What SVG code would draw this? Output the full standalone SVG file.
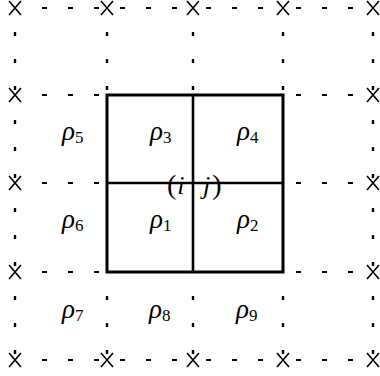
<svg xmlns="http://www.w3.org/2000/svg" width="380" height="376" viewBox="0 0 380 376">
<style>
.h{stroke:#000;stroke-width:2.2;stroke-dasharray:5 21;fill:none}
.v{stroke:#000;stroke-width:2.4;stroke-dasharray:4 23;fill:none}
.x{stroke:#000;stroke-width:1.6;fill:none}
.box{stroke:#000;stroke-width:3;fill:none}
.in{stroke:#000;stroke-width:2.6;fill:none}
text{font-family:"Liberation Serif","DejaVu Serif",serif;fill:#000}
.r{font-style:italic;font-size:27px}
.s{font-size:17px}
.p{font-size:28px}
.pi{font-size:26px;font-style:italic}
</style>
<defs>
<path id="cx" d="M-6,-7 L6,7 M-6,7 L6,-7" class="x"/>
</defs>
<g id="connectors">
<path class="h" d="M42,8 H107 M120,8 H193 M206,8 H283 M296,8 H373"/>
<path class="h" d="M42,95 H107 M296,95 H373"/>
<path class="h" d="M42,183 H107 M296,183 H373"/>
<path class="h" d="M42,272 H107 M296,272 H373"/>
<path class="h" d="M42,360 H107 M120,360 H193 M206,360 H283 M296,360 H373"/>
<path class="v" d="M15,32 V95 M15,120 V183 M15,208 V272 M15,296 V360"/>
<path class="v" d="M107,32 V95 M193,32 V95 M283,32 V95"/>
<path class="v" d="M107,296 V360 M193,296 V360 M283,296 V360"/>
<path class="v" d="M373,32 V95 M373,120 V183 M373,208 V272 M373,296 V360"/>
</g>
<g id="crosses">
<use href="#cx" x="15" y="8"/><use href="#cx" x="107" y="8"/><use href="#cx" x="193" y="8"/><use href="#cx" x="283" y="8"/><use href="#cx" x="373" y="8"/>
<use href="#cx" x="15" y="95"/><use href="#cx" x="373" y="95"/>
<use href="#cx" x="15" y="183"/><use href="#cx" x="373" y="183"/>
<use href="#cx" x="15" y="272"/><use href="#cx" x="373" y="272"/>
<use href="#cx" x="15" y="360"/><use href="#cx" x="107" y="360"/><use href="#cx" x="193" y="360"/><use href="#cx" x="283" y="360"/><use href="#cx" x="373" y="360"/>
</g>
<g id="box">
<rect class="box" x="107" y="95" width="176" height="177"/>
<path class="in" d="M107,183 H283 M193,95 V272"/>
</g>
<g id="labels">
<text x="62" y="140"><tspan class="r">ρ</tspan><tspan class="s" dy="3">5</tspan></text>
<text x="150" y="140"><tspan class="r">ρ</tspan><tspan class="s" dy="3">3</tspan></text>
<text x="237" y="140"><tspan class="r">ρ</tspan><tspan class="s" dy="3">4</tspan></text>
<text x="62" y="228"><tspan class="r">ρ</tspan><tspan class="s" dy="3">6</tspan></text>
<text x="150" y="228"><tspan class="r">ρ</tspan><tspan class="s" dy="3">1</tspan></text>
<text x="237" y="228"><tspan class="r">ρ</tspan><tspan class="s" dy="3">2</tspan></text>
<text x="62" y="318"><tspan class="r">ρ</tspan><tspan class="s" dy="3">7</tspan></text>
<text x="149" y="318"><tspan class="r">ρ</tspan><tspan class="s" dy="3">8</tspan></text>
<text x="236" y="318"><tspan class="r">ρ</tspan><tspan class="s" dy="3">9</tspan></text>
<text x="167" y="194"><tspan class="p">(</tspan><tspan class="pi" dx="1">i</tspan></text>
<text x="203" y="194"><tspan class="pi">j</tspan><tspan class="p" dx="2">)</tspan></text>
</g>
</svg>
